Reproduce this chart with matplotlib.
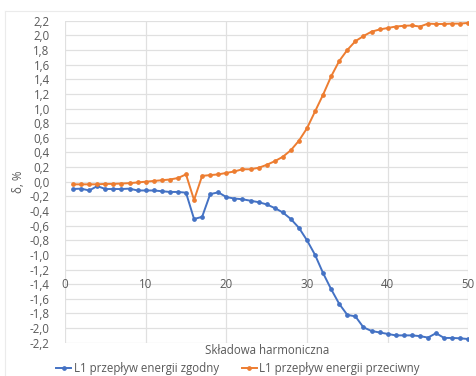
import matplotlib
matplotlib.use('Agg')
import matplotlib.pyplot as plt
from matplotlib.lines import Line2D

plt.rcParams['font.family'] = ['Open Sans', 'DejaVu Sans']

# harmonic order
harmonics = list(range(1, 51))

# L1 energy flow, concordant (blue)
flow_zgodny = [
    -0.10, -0.095, -0.12, -0.06, -0.10, -0.10, -0.10, -0.095, -0.12, -0.12,
    -0.12, -0.13, -0.14, -0.14, -0.15, -0.51, -0.48, -0.17, -0.145, -0.21,
    -0.23, -0.24, -0.26, -0.28, -0.31, -0.36, -0.42, -0.51, -0.63, -0.80,
    -1.00, -1.25, -1.47, -1.67, -1.82, -1.84, -1.99, -2.04, -2.06, -2.08,
    -2.10, -2.10, -2.10, -2.11, -2.13, -2.07, -2.135, -2.135, -2.14, -2.15,
]

# L1 energy flow, opposite (orange)
flow_przeciwny = [
    -0.036, -0.036, -0.036, -0.036, -0.03, -0.03, -0.025, -0.02, -0.01, 0.0,
    0.01, 0.02, 0.03, 0.05, 0.10, -0.25, 0.08, 0.09, 0.10, 0.12,
    0.14, 0.17, 0.17, 0.19, 0.23, 0.28, 0.34, 0.43, 0.56, 0.73,
    0.96, 1.19, 1.44, 1.65, 1.80, 1.92, 1.99, 2.05, 2.08, 2.10,
    2.12, 2.13, 2.135, 2.12, 2.16, 2.155, 2.155, 2.16, 2.16, 2.17,
]

x_ticks = [0, 10, 20, 30, 40, 50]
y_ticks = [round(-2.2 + 0.2 * i, 1) for i in range(23)]

BLUE = "#4472C4"
ORANGE = "#ED7D31"
TEXT = "#595959"
GRID = "#E0E0E0"
FS = 8.3

fig = plt.figure(figsize=(4.76, 3.76), dpi=100)
fig.patch.set_facecolor("white")
ax = fig.add_axes([65 / 476, 1 - 342.7 / 376, (468.3 - 65) / 476, (342.7 - 20.7) / 376])

ax.plot(harmonics, flow_zgodny, color=BLUE, lw=1.4, marker="o", ms=2.4,
        label="L1 przepływ energii zgodny", zorder=3)
ax.plot(harmonics, flow_przeciwny, color=ORANGE, lw=1.4, marker="o", ms=2.4,
        label="L1 przepływ energii przeciwny", zorder=3)

ax.set_xlim(0, 50)
ax.set_ylim(-2.2, 2.2)
ax.set_xticks(x_ticks)
ax.set_yticks(y_ticks)
ax.set_xticklabels([])
ax.set_yticklabels([f"{v:.1f}".replace(".", ",").replace("-0,0", "0,0") for v in y_ticks])
ax.tick_params(length=0, labelsize=FS, labelcolor=TEXT, pad=11)
ax.grid(True, color=GRID, lw=0.9)
ax.set_axisbelow(True)
for s in ax.spines.values():
    s.set_visible(False)

# Excel puts the category labels part way down the plot
for t in x_ticks:
    ax.text(t, -1.40, str(t), ha="center", va="center", fontsize=FS, color=TEXT)

ax.set_ylabel("δ, %", fontsize=FS, color=TEXT, labelpad=3)
ax.set_xlabel("Składowa harmoniczna", fontsize=FS, color=TEXT, va="center")
ax.xaxis.set_label_coords(0.5, -(351 - 342.7) / 322)

fig.legend(loc="center", bbox_to_anchor=(0.5, 1 - 368.5 / 376), ncol=2, frameon=False,
           fontsize=FS, labelcolor=TEXT, handlelength=1.3, handletextpad=0.2,
           columnspacing=2.0)

# faint chart-area border
fig.add_artist(Line2D([5 / 476, 5 / 476], [0, 1 - 11 / 376], color="#EBEBEB", lw=0.8))
fig.add_artist(Line2D([5 / 476, 1], [1 - 11 / 376, 1 - 11 / 376], color="#EBEBEB", lw=0.8))

fig.savefig("out.png", dpi=100, facecolor="white")
